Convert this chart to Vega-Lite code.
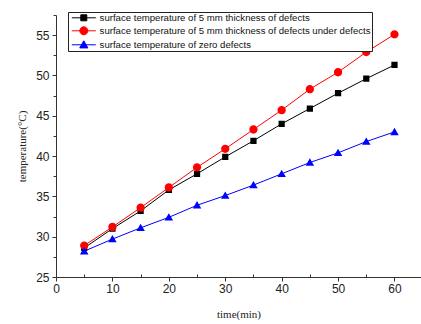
{
  "$schema": "https://vega.github.io/schema/vega-lite/v6.json",
  "width": 365,
  "height": 262,
  "autosize": "none",
  "padding": {"left": 56, "top": 15, "right": 0, "bottom": 47},
  "background": "white",
  "config": {
    "view": {"stroke": null},
    "axis": {"domainColor": "#333333", "tickColor": "#333333", "labelColor": "#222222", "labelFont": "Liberation Sans", "labelFontSize": 12, "titleFont": "Liberation Serif", "titleFontWeight": "normal", "titleFontSize": 11, "titleColor": "#222222", "grid": false}
  },
  "data": {"values": [
    {"t": 5, "temp": 28.6, "s": "surface temperature of 5 mm thickness of defects"},
    {"t": 10, "temp": 31.0, "s": "surface temperature of 5 mm thickness of defects"},
    {"t": 15, "temp": 33.2, "s": "surface temperature of 5 mm thickness of defects"},
    {"t": 20, "temp": 35.8, "s": "surface temperature of 5 mm thickness of defects"},
    {"t": 25, "temp": 37.8, "s": "surface temperature of 5 mm thickness of defects"},
    {"t": 30, "temp": 39.9, "s": "surface temperature of 5 mm thickness of defects"},
    {"t": 35, "temp": 41.9, "s": "surface temperature of 5 mm thickness of defects"},
    {"t": 40, "temp": 44.0, "s": "surface temperature of 5 mm thickness of defects"},
    {"t": 45, "temp": 45.9, "s": "surface temperature of 5 mm thickness of defects"},
    {"t": 50, "temp": 47.8, "s": "surface temperature of 5 mm thickness of defects"},
    {"t": 55, "temp": 49.6, "s": "surface temperature of 5 mm thickness of defects"},
    {"t": 60, "temp": 51.3, "s": "surface temperature of 5 mm thickness of defects"},
    {"t": 5, "temp": 28.9, "s": "surface temperature of 5 mm thickness of defects under defects"},
    {"t": 10, "temp": 31.2, "s": "surface temperature of 5 mm thickness of defects under defects"},
    {"t": 15, "temp": 33.6, "s": "surface temperature of 5 mm thickness of defects under defects"},
    {"t": 20, "temp": 36.1, "s": "surface temperature of 5 mm thickness of defects under defects"},
    {"t": 25, "temp": 38.6, "s": "surface temperature of 5 mm thickness of defects under defects"},
    {"t": 30, "temp": 40.9, "s": "surface temperature of 5 mm thickness of defects under defects"},
    {"t": 35, "temp": 43.3, "s": "surface temperature of 5 mm thickness of defects under defects"},
    {"t": 40, "temp": 45.7, "s": "surface temperature of 5 mm thickness of defects under defects"},
    {"t": 45, "temp": 48.3, "s": "surface temperature of 5 mm thickness of defects under defects"},
    {"t": 50, "temp": 50.4, "s": "surface temperature of 5 mm thickness of defects under defects"},
    {"t": 55, "temp": 52.9, "s": "surface temperature of 5 mm thickness of defects under defects"},
    {"t": 60, "temp": 55.1, "s": "surface temperature of 5 mm thickness of defects under defects"},
    {"t": 5, "temp": 28.2, "s": "surface temperature of zero defects"},
    {"t": 10, "temp": 29.7, "s": "surface temperature of zero defects"},
    {"t": 15, "temp": 31.1, "s": "surface temperature of zero defects"},
    {"t": 20, "temp": 32.4, "s": "surface temperature of zero defects"},
    {"t": 25, "temp": 33.9, "s": "surface temperature of zero defects"},
    {"t": 30, "temp": 35.1, "s": "surface temperature of zero defects"},
    {"t": 35, "temp": 36.4, "s": "surface temperature of zero defects"},
    {"t": 40, "temp": 37.8, "s": "surface temperature of zero defects"},
    {"t": 45, "temp": 39.2, "s": "surface temperature of zero defects"},
    {"t": 50, "temp": 40.4, "s": "surface temperature of zero defects"},
    {"t": 55, "temp": 41.8, "s": "surface temperature of zero defects"},
    {"t": 60, "temp": 43.0, "s": "surface temperature of zero defects"}
  ]},
  "encoding": {
    "x": {"field": "t", "type": "quantitative", "title": "time(min)",
      "scale": {"domain": [0, 64.7], "nice": false, "zero": false},
      "axis": {"values": [0, 5, 10, 15, 20, 25, 30, 35, 40, 45, 50, 55, 60], "labelExpr": "datum.value % 10 === 0 ? datum.label : ''",
        "tickSize": {"condition": {"test": "datum.value % 10 === 0", "value": 4}, "value": -3},
        "labelPadding": 2, "titlePadding": 14, "labelFlush": false}},
    "y": {"field": "temp", "type": "quantitative", "title": "temperature(°C)",
      "scale": {"domain": [25, 57.5], "nice": false, "zero": false},
      "axis": {"values": [25, 27.5, 30, 32.5, 35, 37.5, 40, 42.5, 45, 47.5, 50, 52.5, 55, 57.5], "labelExpr": "datum.value % 5 === 0 ? datum.label : ''",
        "tickSize": {"condition": {"test": "datum.value % 5 === 0", "value": 4}, "value": 3},
        "labelPadding": 3, "titlePadding": 8}}
  },
  "layer": [
    {
      "mark": {"type": "line", "strokeWidth": 1},
      "encoding": {
        "stroke": {"field": "s", "type": "nominal",
          "scale": {"domain": ["surface temperature of 5 mm thickness of defects", "surface temperature of 5 mm thickness of defects under defects", "surface temperature of zero defects"], "range": ["#000000", "#ff0000", "#0000ff"]}}
      }
    },
    {
      "mark": {"type": "point", "filled": true, "opacity": 1, "size": 69},
      "encoding": {
        "strokeWidth": {"value": 0},
        "color": {"field": "s", "type": "nominal",
          "scale": {"domain": ["surface temperature of 5 mm thickness of defects", "surface temperature of 5 mm thickness of defects under defects", "surface temperature of zero defects"], "range": ["#000000", "#ff0000", "#0000ff"]},
          "legend": {"title": null, "orient": "none", "legendX": 12, "legendY": -3, "strokeColor": "#222222", "fillColor": "white", "padding": 1, "labelFont": "Liberation Sans", "labelFontSize": 9.6, "labelColor": "#111111", "labelLimit": 500, "symbolSize": 64, "symbolStrokeWidth": 1, "rowPadding": 1, "symbolOffset": 10, "labelOffset": 11, "symbolOpacity": 1}},
        "stroke": {"field": "s", "type": "nominal"},
        "shape": {"field": "s", "type": "nominal",
          "scale": {"domain": ["surface temperature of 5 mm thickness of defects", "surface temperature of 5 mm thickness of defects under defects", "surface temperature of zero defects"],
            "range": ["M-3,0H3M-0.75,-0.75H0.75V0.75H-0.75Z", "M-3,0H3M-1,0A1,1,0,1,1,1,0A1,1,0,1,1,-1,0Z", "M-3,0H3M0,-1L1.02,0.78L-1.02,0.78Z"]}}
      }
    }
  ]
}
